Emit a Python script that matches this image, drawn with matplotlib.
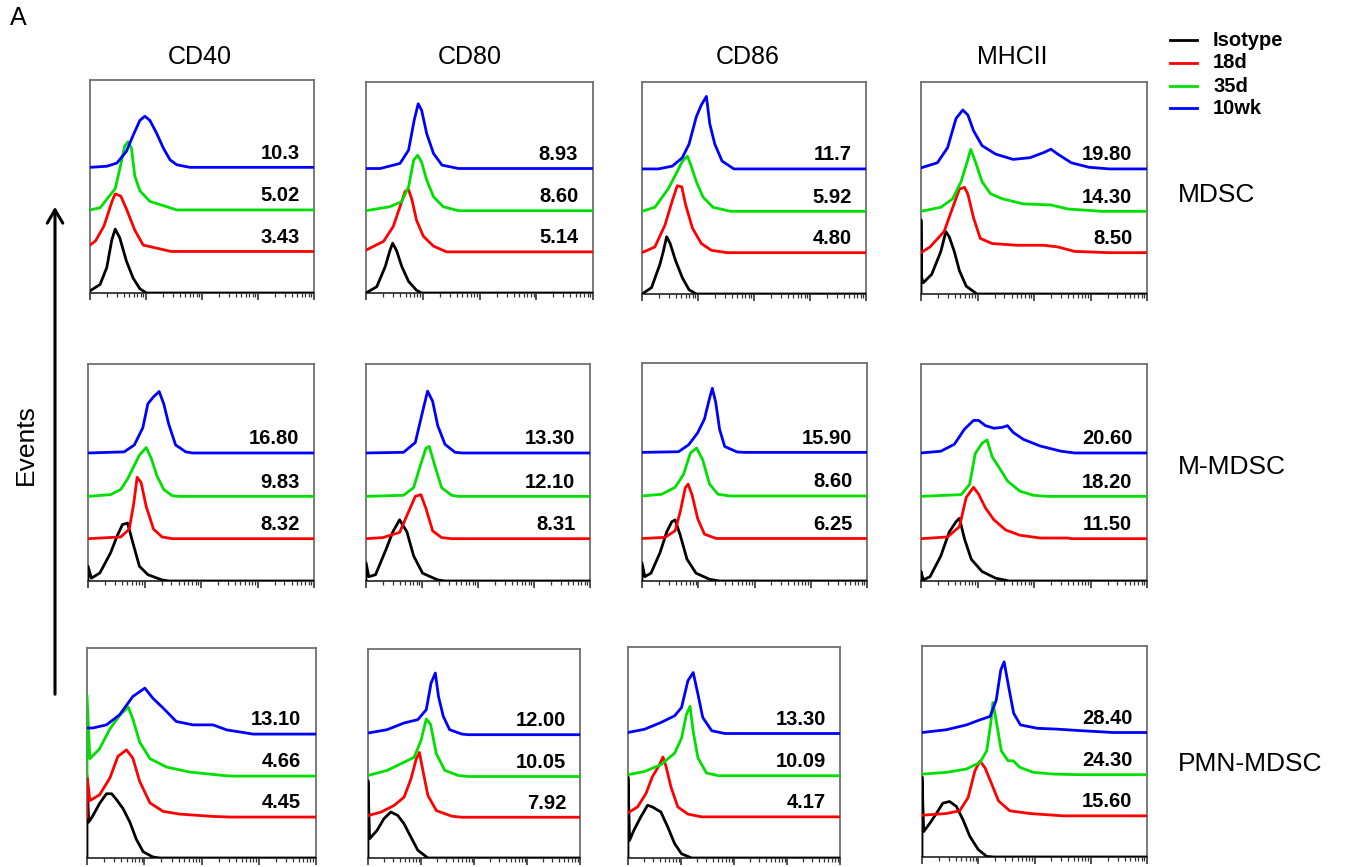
import numpy as np
import matplotlib
matplotlib.use("Agg")
import matplotlib.pyplot as plt

plt.rcParams['font.family'] = ['Liberation Sans', 'DejaVu Sans']

markers = ["CD40", "CD80", "CD86", "MHCII"]
populations = ["MDSC", "M-MDSC", "PMN-MDSC"]
groups = ["Isotype", "18d", "35d", "10wk"]
colors = ["#000000", "#ff0000", "#00e000", "#0000ff"]

# numbers printed in each panel (18d, 35d, 10wk)
mfi_mdsc = [["3.43", "5.02", "10.3"], ["5.14", "8.60", "8.93"],
            ["4.80", "5.92", "11.7"], ["8.50", "14.30", "19.80"]]
mfi_m_mdsc = [["8.32", "9.83", "16.80"], ["8.31", "12.10", "13.30"],
              ["6.25", "8.60", "15.90"], ["11.50", "18.20", "20.60"]]
mfi_pmn_mdsc = [["4.45", "4.66", "13.10"], ["7.92", "10.05", "12.00"],
                ["4.17", "10.09", "13.30"], ["15.60", "24.30", "28.40"]]

# histograms: (log decades, height above own baseline)
# order in each list: Isotype, 18d, 35d, 10wk
mdsc_cd40 = [
    ([0, 0.18, 0.30, 0.39, 0.45, 0.53, 0.65, 0.77, 0.89, 1.01],
     [0.01, 0.04, 0.12, 0.25, 0.30, 0.26, 0.15, 0.07, 0.02, 0]),
    ([0, 0.1, 0.25, 0.4, 0.45, 0.55, 0.65, 0.8, 0.95, 1.45],
     [0.03, 0.05, 0.12, 0.24, 0.27, 0.26, 0.2, 0.1, 0.03, 0]),
    ([0.18, 0.36, 0.45, 0.53, 0.62, 0.68, 0.74, 0.80, 0.89, 1.07, 1.37, 1.55],
     [0.01, 0.07, 0.10, 0.19, 0.30, 0.32, 0.29, 0.16, 0.09, 0.04, 0.015, 0]),
    ([0.30, 0.48, 0.65, 0.77, 0.89, 0.98, 1.07, 1.19, 1.31, 1.43, 1.55, 1.78],
     [0.005, 0.02, 0.075, 0.15, 0.22, 0.24, 0.22, 0.16, 0.09, 0.035, 0.012, 0]),
]
mdsc_cd80 = [
    ([0.19, 0.34, 0.42, 0.47, 0.54, 0.63, 0.75, 0.89, 0.98],
     [0.03, 0.126, 0.2, 0.236, 0.2, 0.126, 0.055, 0.013, 0]),
    ([0, 0.31, 0.48, 0.6, 0.69, 0.75, 0.81, 0.89, 1.01, 1.19, 1.42],
     [0.008, 0.05, 0.12, 0.215, 0.287, 0.295, 0.247, 0.15, 0.074, 0.027, 0]),
    ([0.42, 0.63, 0.75, 0.84, 0.91, 0.98, 1.07, 1.19, 1.36, 1.63],
     [0.019, 0.043, 0.113, 0.24, 0.263, 0.23, 0.145, 0.066, 0.019, 0]),
    ([0.25, 0.6, 0.75, 0.85, 0.92, 0.98, 1.07, 1.19, 1.34, 1.63],
     [0, 0.024, 0.087, 0.23, 0.307, 0.276, 0.165, 0.071, 0.016, 0]),
]
mdsc_cd86 = [
    ([0.17, 0.32, 0.38, 0.44, 0.5, 0.6, 0.72, 0.84, 0.97],
     [0.03, 0.14, 0.2, 0.27, 0.24, 0.157, 0.077, 0.02, 0]),
    ([0.23, 0.41, 0.54, 0.63, 0.71, 0.78, 0.9, 1.06, 1.24, 1.52],
     [0.027, 0.13, 0.244, 0.316, 0.31, 0.225, 0.116, 0.043, 0.011, 0]),
    ([0.23, 0.47, 0.63, 0.72, 0.81, 0.87, 0.97, 1.09, 1.27, 1.58],
     [0.019, 0.107, 0.188, 0.236, 0.26, 0.22, 0.14, 0.067, 0.019, 0]),
    ([0.29, 0.54, 0.72, 0.84, 0.97, 1.06, 1.15, 1.21, 1.3, 1.43, 1.64],
     [0, 0.013, 0.053, 0.117, 0.246, 0.302, 0.342, 0.213, 0.117, 0.037, 0]),
]
mdsc_mhcii = [
    ([0, 0, 0.01, 0.04, 0.19, 0.35, 0.44, 0.5, 0.59, 0.68, 0.8, 0.99],
     [0, 0.35, 0.08, 0.053, 0.093, 0.2, 0.294, 0.27, 0.2, 0.11, 0.037, 0]),
    ([0.16, 0.41, 0.56, 0.68, 0.77, 0.83, 0.93, 1.05, 1.26, 1.69, 2.17, 2.42, 2.72, 3.33],
     [0.027, 0.1, 0.212, 0.3, 0.308, 0.276, 0.164, 0.067, 0.043, 0.035, 0.035, 0.027, 0.006, 0]),
    ([0.35, 0.56, 0.71, 0.82, 0.88, 0.96, 1.08, 1.23, 1.44, 1.81, 2.3, 2.6, 3.21],
     [0.019, 0.059, 0.14, 0.236, 0.292, 0.236, 0.14, 0.083, 0.059, 0.035, 0.03, 0.011, 0]),
    ([0, 0.29, 0.47, 0.62, 0.74, 0.83, 0.93, 1.08, 1.32, 1.63, 1.93, 2.17, 2.3, 2.42, 2.66, 2.97, 3.33],
     [0.005, 0.029, 0.1, 0.238, 0.278, 0.254, 0.18, 0.11, 0.07, 0.045, 0.053, 0.077, 0.093, 0.07, 0.029, 0.008, 0]),
]

m_mdsc_cd40 = [
    ([0, 0, 0.06, 0.21, 0.4, 0.52, 0.61, 0.7, 0.79, 0.91, 1.06, 1.31, 1.43],
     [0, 0.068, 0.013, 0.037, 0.13, 0.21, 0.26, 0.267, 0.18, 0.068, 0.029, 0.005, 0]),
    ([0.58, 0.73, 0.81, 0.87, 0.94, 1.03, 1.16, 1.31, 1.49],
     [0.008, 0.044, 0.163, 0.283, 0.259, 0.148, 0.044, 0.008, 0]),
    ([0.4, 0.58, 0.7, 0.79, 0.91, 1.03, 1.12, 1.22, 1.34, 1.49, 1.61],
     [0.008, 0.032, 0.08, 0.127, 0.19, 0.225, 0.175, 0.095, 0.032, 0.003, 0]),
    ([0.64, 0.82, 0.97, 1.06, 1.16, 1.26, 1.34, 1.43, 1.55, 1.73, 1.85],
     [0.005, 0.037, 0.116, 0.227, 0.259, 0.283, 0.227, 0.132, 0.037, 0.005, 0]),
]
m_mdsc_cd80 = [
    ([0, 0, 0.05, 0.17, 0.36, 0.48, 0.6, 0.73, 0.85, 1.01, 1.28, 1.41],
     [0, 0.084, 0.02, 0.029, 0.147, 0.227, 0.282, 0.227, 0.116, 0.036, 0.005, 0]),
    ([0.3, 0.6, 0.76, 0.88, 0.98, 1.07, 1.19, 1.35, 1.53],
     [0.005, 0.029, 0.124, 0.195, 0.203, 0.14, 0.036, 0.005, 0]),
    ([0.67, 0.85, 0.98, 1.07, 1.13, 1.22, 1.35, 1.53, 1.65],
     [0.005, 0.04, 0.15, 0.222, 0.23, 0.15, 0.04, 0.005, 0]),
    ([0.67, 0.88, 1.01, 1.1, 1.19, 1.28, 1.41, 1.59, 1.72],
     [0.003, 0.048, 0.19, 0.285, 0.238, 0.127, 0.04, 0.003, 0]),
]
m_mdsc_cd86 = [
    ([0, 0, 0.05, 0.16, 0.32, 0.44, 0.53, 0.59, 0.68, 0.8, 0.96, 1.2, 1.38],
     [0, 0.083, 0.02, 0.036, 0.13, 0.225, 0.272, 0.28, 0.21, 0.1, 0.036, 0.008, 0]),
    ([0.41, 0.59, 0.68, 0.77, 0.82, 0.89, 0.99, 1.11, 1.32],
     [0.005, 0.036, 0.123, 0.233, 0.249, 0.2, 0.091, 0.02, 0]),
    ([0.35, 0.59, 0.74, 0.86, 0.97, 1.08, 1.2, 1.35, 1.56],
     [0.008, 0.04, 0.1, 0.197, 0.22, 0.165, 0.055, 0.008, 0]),
    ([0.65, 0.83, 0.99, 1.11, 1.2, 1.25, 1.31, 1.38, 1.47, 1.69, 1.81],
     [0.003, 0.035, 0.09, 0.153, 0.247, 0.294, 0.23, 0.105, 0.027, 0.002, 0]),
]
m_mdsc_mhcii = [
    ([0, 0, 0.04, 0.16, 0.35, 0.5, 0.62, 0.68, 0.77, 0.89, 1.08, 1.32, 1.56],
     [0, 0.044, 0.005, 0.02, 0.115, 0.226, 0.273, 0.289, 0.194, 0.1, 0.044, 0.013, 0]),
    ([0.47, 0.68, 0.8, 0.93, 1.02, 1.14, 1.29, 1.5, 1.75, 2.11, 2.6, 2.66],
     [0.008, 0.055, 0.19, 0.237, 0.205, 0.142, 0.087, 0.04, 0.016, 0.003, 0.003, 0]),
    ([0.71, 0.86, 0.96, 1.08, 1.17, 1.26, 1.38, 1.53, 1.75, 1.99, 2.23],
     [0.008, 0.055, 0.197, 0.245, 0.26, 0.182, 0.134, 0.071, 0.024, 0.005, 0]),
    ([0.35, 0.59, 0.77, 0.93, 1.02, 1.14, 1.29, 1.44, 1.53, 1.63, 1.81, 2.11, 2.48, 2.72],
     [0.008, 0.04, 0.11, 0.15, 0.15, 0.126, 0.114, 0.118, 0.126, 0.095, 0.063, 0.032, 0.008, 0]),
]

pmn_mdsc_cd40 = [
    ([0, 0, 0.03, 0.1, 0.22, 0.34, 0.43, 0.51, 0.63, 0.75, 0.86, 0.98, 1.15, 1.27],
     [0, 0.378, 0.171, 0.2, 0.26, 0.306, 0.306, 0.28, 0.235, 0.17, 0.09, 0.03, 0.005, 0]),
    ([0, 0, 0.05, 0.22, 0.4, 0.54, 0.69, 0.8, 0.92, 1.1, 1.33, 1.62, 2.2, 2.5],
     [0, 0.2, 0.078, 0.106, 0.186, 0.289, 0.32, 0.281, 0.17, 0.067, 0.027, 0.014, 0.003, 0]),
    ([0, 0, 0.05, 0.22, 0.4, 0.57, 0.72, 0.8, 0.92, 1.1, 1.39, 1.8, 2.38, 2.55],
     [0, 0.384, 0.083, 0.13, 0.225, 0.289, 0.329, 0.273, 0.162, 0.083, 0.043, 0.019, 0.003, 0]),
    ([0, 0.1, 0.34, 0.57, 0.8, 1.01, 1.15, 1.33, 1.56, 1.85, 2.2, 2.44, 2.79, 2.9],
     [0.029, 0.029, 0.044, 0.092, 0.179, 0.219, 0.171, 0.124, 0.06, 0.044, 0.044, 0.02, 0.005, 0]),
]
pmn_mdsc_cd80 = [
    ([0, 0, 0.03, 0.17, 0.3, 0.43, 0.56, 0.68, 0.81, 0.94, 1.13],
     [0, 0.37, 0.092, 0.132, 0.188, 0.22, 0.204, 0.164, 0.1, 0.037, 0]),
    ([0, 0.24, 0.49, 0.68, 0.81, 0.91, 0.97, 1.03, 1.13, 1.29, 1.58, 1.77],
     [0.008, 0.024, 0.056, 0.096, 0.183, 0.279, 0.31, 0.231, 0.104, 0.032, 0.005, 0]),
    ([0, 0.36, 0.68, 0.87, 1.0, 1.1, 1.18, 1.29, 1.45, 1.7, 1.89],
     [0.005, 0.029, 0.068, 0.092, 0.172, 0.275, 0.25, 0.108, 0.029, 0.005, 0]),
    ([0, 0.36, 0.68, 0.94, 1.1, 1.19, 1.27, 1.33, 1.42, 1.54, 1.77, 1.89],
     [0.008, 0.024, 0.056, 0.072, 0.12, 0.247, 0.295, 0.183, 0.088, 0.024, 0.003, 0]),
]
pmn_mdsc_cd86 = [
    ([0, 0, 0.03, 0.11, 0.24, 0.37, 0.46, 0.62, 0.75, 0.88, 1.01, 1.2],
     [0, 0.384, 0.084, 0.131, 0.194, 0.25, 0.242, 0.218, 0.147, 0.068, 0.02, 0]),
    ([0, 0.18, 0.34, 0.46, 0.59, 0.66, 0.72, 0.81, 0.94, 1.13, 1.39],
     [0.019, 0.047, 0.111, 0.19, 0.245, 0.284, 0.237, 0.142, 0.047, 0.013, 0]),
    ([0, 0.31, 0.62, 0.88, 1.01, 1.1, 1.17, 1.23, 1.32, 1.48, 1.71],
     [0.005, 0.02, 0.052, 0.107, 0.178, 0.289, 0.329, 0.21, 0.084, 0.013, 0]),
    ([0, 0.31, 0.62, 0.88, 1.01, 1.13, 1.23, 1.32, 1.41, 1.58, 1.83],
     [0.005, 0.02, 0.052, 0.084, 0.123, 0.25, 0.289, 0.186, 0.076, 0.013, 0]),
]
pmn_mdsc_mhcii = [
    ([0, 0, 0.03, 0.14, 0.26, 0.37, 0.49, 0.61, 0.73, 0.85, 1.0, 1.15, 1.27],
     [0, 0.38, 0.121, 0.16, 0.208, 0.255, 0.263, 0.24, 0.176, 0.098, 0.035, 0.003, 0]),
    ([0, 0.43, 0.67, 0.82, 0.94, 1.03, 1.12, 1.24, 1.36, 1.56, 1.92, 2.51],
     [0.003, 0.011, 0.024, 0.087, 0.213, 0.26, 0.228, 0.15, 0.071, 0.024, 0.011, 0]),
    ([0, 0.43, 0.79, 1.03, 1.15, 1.22, 1.26, 1.32, 1.41, 1.53, 1.62, 1.74, 1.98, 2.34, 2.81],
     [0.003, 0.011, 0.027, 0.058, 0.113, 0.239, 0.342, 0.255, 0.113, 0.066, 0.066, 0.035, 0.011, 0.003, 0]),
    ([0, 0.43, 0.79, 1.03, 1.21, 1.32, 1.4, 1.46, 1.54, 1.63, 1.75, 2.05, 2.4, 2.81, 3.4],
     [0, 0.013, 0.036, 0.06, 0.076, 0.154, 0.296, 0.335, 0.217, 0.091, 0.036, 0.02, 0.016, 0.009, 0]),
]

panels = [[mdsc_cd40, mdsc_cd80, mdsc_cd86, mdsc_mhcii],
          [m_mdsc_cd40, m_mdsc_cd80, m_mdsc_cd86, m_mdsc_mhcii],
          [pmn_mdsc_cd40, pmn_mdsc_cd80, pmn_mdsc_cd86, pmn_mdsc_mhcii]]
mfis = [mfi_mdsc, mfi_m_mdsc, mfi_pmn_mdsc]

# layout (pixels): left, top, right, bottom of every panel box
W, H = 1348, 867
boxes = [
    [(90, 80, 314, 293), (366, 82, 593, 293), (642, 82, 866, 294), (921, 82, 1147, 294)],
    [(88, 364, 314, 581), (366, 364, 590, 581), (642, 363, 867, 581), (921, 364, 1147, 581)],
    [(87, 648, 316, 858), (368, 649, 580, 858), (628, 647, 840, 858), (922, 646, 1147, 857)],
]
offsets = [0.0, 0.195, 0.39, 0.59]
title_x = [200, 470, 748, 1012]
row_label_y = [195, 467, 764]

fig = plt.figure(figsize=(W / 100, H / 100), dpi=100)

minor = [d + np.log10(k) for d in range(4) for k in range(2, 10)]
for r in range(3):
    for c in range(4):
        l, t, rr, b = boxes[r][c]
        ax = fig.add_axes([l / W, 1 - b / H, (rr - l) / W, (b - t) / H])
        for g in range(4):
            x, y = panels[r][c][g]
            x = list(x)
            y = list(y)
            if x[0] > 0:
                x = [0] + x
                y = [0] + y
            x = x + [4.0]
            y = y + [0.0]
            ax.plot(x, np.array(y) + offsets[g], color=colors[g], lw=2.0,
                    solid_joinstyle='round', zorder=3 + g)
        for g in range(1, 4):
            ax.text(3.74, offsets[g] + 0.022, mfis[r][c][g - 1], ha='right',
                    va='bottom', fontsize=14.5, fontweight='bold', zorder=10)
        ax.set_xlim(0, 4)
        ax.set_ylim(0, 1)
        ax.set_xticks(range(5))
        ax.set_xticks(minor, minor=True)
        ax.set_yticks([])
        ax.tick_params(axis='x', which='major', length=5, width=1.2,
                       direction='out', labelbottom=False, color='#333333')
        ax.tick_params(axis='x', which='minor', length=3, width=0.9,
                       direction='out', color='#333333')
        for s in ax.spines.values():
            s.set_color('#707070')
            s.set_linewidth(1.3)
        ax.spines['bottom'].set_color('#333333')

for c in range(4):
    fig.text(title_x[c] / W, 1 - 57 / H, markers[c], ha='center', va='center',
             fontsize=18)
for r in range(3):
    fig.text(1178 / W, 1 - row_label_y[r] / H, populations[r], ha='left',
             va='center', fontsize=19)

# legend
leg_y = [40, 63, 86, 108]
for g in range(4):
    yy = 1 - leg_y[g] / H
    fig.add_artist(plt.Line2D([1170 / W, 1197 / W], [yy, yy], color=colors[g],
                              lw=2, transform=fig.transFigure))
    fig.text(1213 / W, yy, groups[g], ha='left', va='center', fontsize=14.5,
             fontweight='bold')

fig.text(10 / W, 1 - 18 / H, "A", ha='left', va='center', fontsize=18)

# Events axis arrow
fig.add_artist(matplotlib.patches.FancyArrowPatch(
    (55 / W, 1 - 697 / H), (55 / W, 1 - 204 / H), transform=fig.transFigure,
    arrowstyle='->,head_length=6,head_width=3.5', lw=2.2, color='black',
    mutation_scale=1.6))
fig.text(26 / W, 1 - 445 / H, "Events", rotation=90, ha='center', va='center',
         fontsize=19)

fig.savefig("out.png", dpi=100)
